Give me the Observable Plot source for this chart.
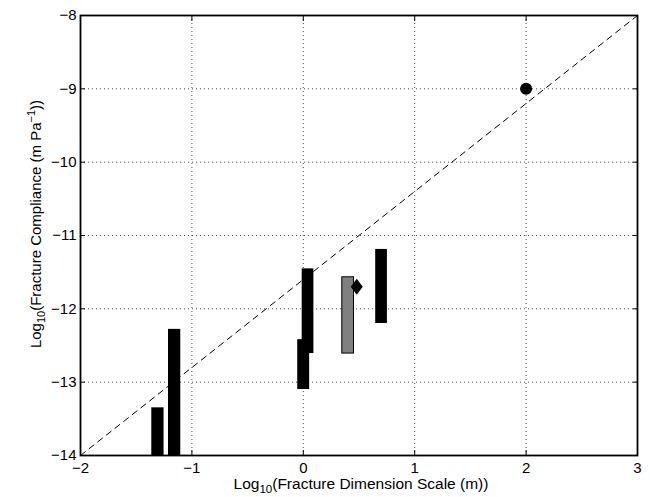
<!DOCTYPE html>
<html><head><meta charset="utf-8">
<script src="https://cdn.jsdelivr.net/npm/d3@7"></script>
<script src="https://cdn.jsdelivr.net/npm/@observablehq/plot@0.6"></script>
<style>body{margin:0;background:#fff} svg{display:block}</style>
</head><body><div id="chart"></div>
<script>
// Data
const barX1 = [-1.36, -1.21, -0.05, -0.01, 0.35, 0.65];
const barX2 = [-1.25, -1.10, 0.057, 0.095, 0.455, 0.755];
const barY1 = [-14, -14, -13.10, -12.61, -12.61, -12.20];
const barY2 = [-13.35, -12.28, -12.42, -11.455, -11.57, -11.19];
const barFill = ["black", "black", "black", "black", "#808080", "black"];

const diamondX = [0.48];
const diamondY = [-11.70];
const circleX = [2];
const circleY = [-9];

const lineX = [-2, 3];
const lineY = [-14, -8];

const xTicks = [-2, -1, 0, 1, 2, 3];
const yTicks = [-14, -13, -12, -11, -10, -9, -8];

const bars = barX1.map((d, i) => ({x1: d, x2: barX2[i], y1: barY1[i], y2: barY2[i], fill: barFill[i]}));
const diamond = diamondX.map((d, i) => ({x: d, y: diamondY[i]}));
const circle = circleX.map((d, i) => ({x: d, y: circleY[i]}));
const refLine = lineX.map((d, i) => ({x: d, y: lineY[i]}));

const diamondSym = {
  draw(ctx, size) {
    const r = Math.sqrt(size / Math.PI);
    ctx.moveTo(0, -r);
    ctx.lineTo(0.75 * r, 0);
    ctx.lineTo(0, r);
    ctx.lineTo(-0.75 * r, 0);
    ctx.closePath();
  }
};

const fmt = d => d < 0 ? "\u2212" + Math.abs(d) : String(d);
const font = "'Liberation Sans', Arial, Helvetica, sans-serif";

const plot = Plot.plot({
  width: 650, height: 497,
  marginLeft: 80, marginRight: 13, marginTop: 15, marginBottom: 42,
  x: {domain: [-2, 3]},
  y: {domain: [-14, -8]},
  style: {fontFamily: font, fontSize: "15px", background: "white", color: "black"},
  marks: [
    Plot.gridX(xTicks, {stroke: "black", strokeOpacity: 0.9, strokeDasharray: "1,3", strokeWidth: 0.8}),
    Plot.gridY(yTicks, {stroke: "black", strokeOpacity: 0.9, strokeDasharray: "1,3", strokeWidth: 0.8}),
    Plot.line(refLine, {x: "x", y: "y", stroke: "black", strokeWidth: 1, strokeDasharray: "6,5"}),
    Plot.rect(bars, {x1: "x1", x2: "x2", y1: "y1", y2: "y2", fill: "fill",
      stroke: d => d.fill === "black" ? "none" : "black", strokeWidth: 1}),
    Plot.dot(diamond, {x: "x", y: "y", r: 8, symbol: diamondSym, fill: "black", stroke: "none"}),
    Plot.dot(circle, {x: "x", y: "y", r: 6, fill: "black", stroke: "none"}),
    Plot.axisX(xTicks, {anchor: "bottom", tickSize: 0, tickPadding: 7, label: null, fontSize: 15, tickFormat: fmt}),
    Plot.axisX(xTicks, {anchor: "bottom", tickSize: -5, fill: "none", label: null}),
    Plot.axisX(xTicks, {anchor: "top", tickSize: -5, fill: "none", label: null}),
    Plot.axisY(yTicks, {anchor: "left", tickSize: 0, tickPadding: 4, label: null, fontSize: 15, tickFormat: fmt}),
    Plot.axisY(yTicks, {anchor: "left", tickSize: -5, fill: "none", label: null}),
    Plot.axisY(yTicks, {anchor: "right", tickSize: -5, fill: "none", label: null}),
    Plot.frame({stroke: "black", strokeWidth: 1.8})
  ]
});

const svg = d3.select(plot);
const xl = svg.append("text")
  .attr("x", 361).attr("y", 489)
  .attr("text-anchor", "middle")
  .attr("font-family", font).attr("font-size", 15.5).attr("fill", "black");
xl.append("tspan").text("Log");
xl.append("tspan").attr("font-size", 11.5).attr("dy", 4).text("10");
xl.append("tspan").attr("dy", -4).text("(Fracture Dimension Scale (m))");

const yl = svg.append("text")
  .attr("transform", "translate(41,224) rotate(-90)")
  .attr("text-anchor", "middle")
  .attr("font-family", font).attr("font-size", 15).attr("fill", "black");
yl.append("tspan").text("Log");
yl.append("tspan").attr("font-size", 11).attr("dy", 4).text("10");
yl.append("tspan").attr("dy", -4).text("(Fracture Compliance (m Pa");
yl.append("tspan").attr("font-size", 11).attr("dy", -6).text("\u22121");
yl.append("tspan").attr("dy", 6).text("))");

document.getElementById("chart").appendChild(plot);
</script>
</body></html>
